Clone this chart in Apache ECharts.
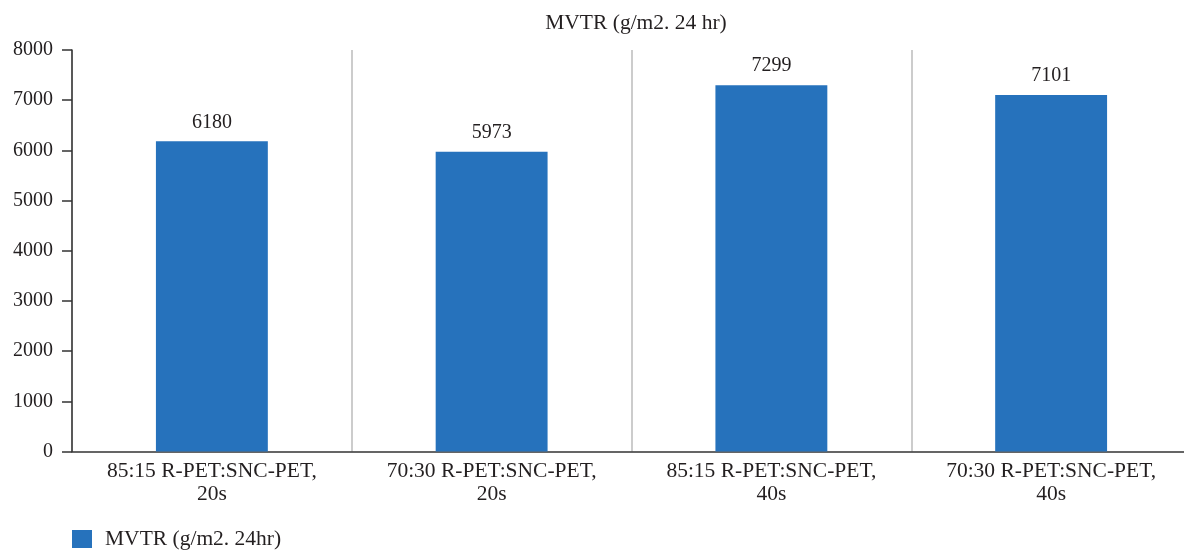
<!DOCTYPE html>
<html>
<head>
<meta charset="utf-8">
<script src="https://cdn.jsdelivr.net/npm/echarts@6/dist/echarts.min.js"></script>
<style>
  html, body { margin: 0; padding: 0; background: #fff; }
  #chart { width: 1184px; height: 550px; }
</style>
</head>
<body>
<div id="chart"></div>
<script>
const categories = [
  '85:15 R-PET:SNC-PET,\n20s',
  '70:30 R-PET:SNC-PET,\n20s',
  '85:15 R-PET:SNC-PET,\n40s',
  '70:30 R-PET:SNC-PET,\n40s'
]
const mvtrValues = [6180, 5973, 7299, 7101]
const seriesName = 'MVTR (g/m2. 24hr)'
const titleText = 'MVTR (g/m2. 24 hr)'

const fontFamily = '"Liberation Serif", "DejaVu Serif", serif'
const textColor = '#231f20'
const numberSize = 20
const textSize = 21.5

const chart = echarts.init(document.getElementById('chart'))

chart.setOption({
  animation: false,
  textStyle: { fontFamily: fontFamily, color: textColor },
  title: {
    text: titleText,
    left: 631,
    top: 7,
    textAlign: 'center',
    textStyle: { fontFamily: fontFamily, fontSize: textSize, fontWeight: 'normal', color: textColor }
  },
  legend: {
    left: 72,
    top: 528,
    padding: 0,
    itemWidth: 20,
    itemHeight: 18,
    icon: 'rect',
    textStyle: { fontFamily: fontFamily, fontSize: textSize, color: textColor, padding: [0, 0, 0, 8] },
    data: [seriesName]
  },
  grid: {
    left: 72,
    width: 1119,
    top: 50,
    bottom: 98.5,
    outerBoundsMode: 'none'
  },
  xAxis: {
    type: 'category',
    data: categories,
    axisLine: { lineStyle: { color: '#333', width: 1.5 } },
    axisTick: { show: false },
    axisLabel: {
      fontFamily: fontFamily,
      fontSize: textSize,
      color: textColor,
      margin: 8,
      lineHeight: 23,
      interval: 0
    },
    splitLine: { show: true, lineStyle: { color: '#bbbbbb', width: 1.5 } }
  },
  yAxis: {
    type: 'value',
    min: 0,
    max: 8000,
    interval: 1000,
    axisLine: { show: true, lineStyle: { color: '#333', width: 1.5 } },
    axisTick: { show: true, length: 10, lineStyle: { color: '#333', width: 1.5 } },
    axisLabel: {
      fontFamily: fontFamily,
      fontSize: numberSize,
      color: textColor,
      margin: 19,
      formatter: v => String(v)
    },
    splitLine: { show: false }
  },
  series: [
    {
      name: seriesName,
      type: 'bar',
      data: mvtrValues,
      barWidth: '40%',
      itemStyle: { color: '#2672bc' },
      label: {
        show: true,
        position: 'top',
        distance: 9,
        fontFamily: fontFamily,
        fontSize: numberSize,
        color: textColor
      }
    }
  ]
})

window.addEventListener('resize', () => chart.resize())
</script>
</body>
</html>
